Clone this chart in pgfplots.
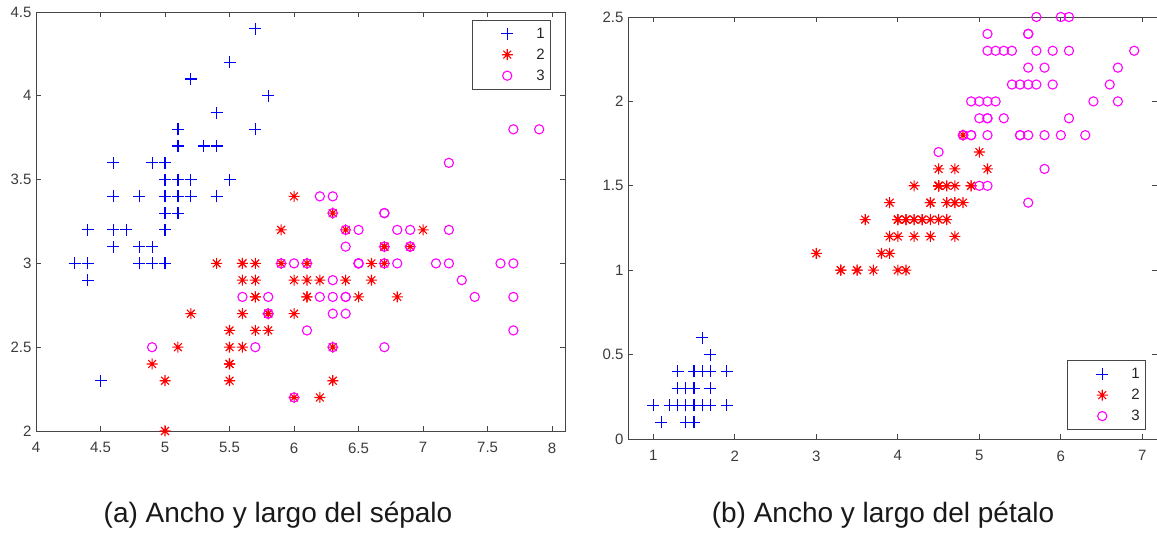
\documentclass[border=0pt]{standalone}
\usepackage{fontspec}
\setmainfont{Liberation Sans}
\usepackage{pgfplots}
\usepackage{pgfplotstable}
\pgfplotsset{compat=1.18}

\definecolor{mblue}{rgb}{0,0,1}
\definecolor{mred}{rgb}{1,0,0}
\definecolor{mmag}{rgb}{1,0,1}
\definecolor{axgray}{RGB}{70,70,70}
\definecolor{labgray}{RGB}{60,60,60}

% plain plus sign
\pgfdeclareplotmark{mplus}{%
  \pgfpathmoveto{\pgfqpoint{-\pgfplotmarksize}{0pt}}%
  \pgfpathlineto{\pgfqpoint{\pgfplotmarksize}{0pt}}%
  \pgfpathmoveto{\pgfqpoint{0pt}{-\pgfplotmarksize}}%
  \pgfpathlineto{\pgfqpoint{0pt}{\pgfplotmarksize}}%
  \pgfusepathqstroke}

% MATLAB-style asterisk: a plus and a cross on top of each other
\pgfdeclareplotmark{mstar}{%
  \pgfpathmoveto{\pgfqpoint{-\pgfplotmarksize}{0pt}}%
  \pgfpathlineto{\pgfqpoint{\pgfplotmarksize}{0pt}}%
  \pgfpathmoveto{\pgfqpoint{0pt}{-\pgfplotmarksize}}%
  \pgfpathlineto{\pgfqpoint{0pt}{\pgfplotmarksize}}%
  \pgfpathmoveto{\pgfqpoint{-0.7071\pgfplotmarksize}{-0.7071\pgfplotmarksize}}%
  \pgfpathlineto{\pgfqpoint{0.7071\pgfplotmarksize}{0.7071\pgfplotmarksize}}%
  \pgfpathmoveto{\pgfqpoint{-0.7071\pgfplotmarksize}{0.7071\pgfplotmarksize}}%
  \pgfpathlineto{\pgfqpoint{0.7071\pgfplotmarksize}{-0.7071\pgfplotmarksize}}%
  \pgfusepathqstroke}

% Iris data: sepal length, sepal width, petal length, petal width
\pgfplotstableread{
sl sw pl pw
5.1 3.5 1.4 0.2
4.9 3.0 1.4 0.2
4.7 3.2 1.3 0.2
4.6 3.1 1.5 0.2
5.0 3.6 1.4 0.2
5.4 3.9 1.7 0.4
4.6 3.4 1.4 0.3
5.0 3.4 1.5 0.2
4.4 2.9 1.4 0.2
4.9 3.1 1.5 0.1
5.4 3.7 1.5 0.2
4.8 3.4 1.6 0.2
4.8 3.0 1.4 0.1
4.3 3.0 1.1 0.1
5.8 4.0 1.2 0.2
5.7 4.4 1.5 0.4
5.4 3.9 1.3 0.4
5.1 3.5 1.4 0.3
5.7 3.8 1.7 0.3
5.1 3.8 1.5 0.3
5.4 3.4 1.7 0.2
5.1 3.7 1.5 0.4
4.6 3.6 1.0 0.2
5.1 3.3 1.7 0.5
4.8 3.4 1.9 0.2
5.0 3.0 1.6 0.2
5.0 3.4 1.6 0.4
5.2 3.5 1.5 0.2
5.2 3.4 1.4 0.2
4.7 3.2 1.6 0.2
4.8 3.1 1.6 0.2
5.4 3.4 1.5 0.4
5.2 4.1 1.5 0.1
5.5 4.2 1.4 0.2
4.9 3.1 1.5 0.2
5.0 3.2 1.2 0.2
5.5 3.5 1.3 0.2
4.9 3.6 1.4 0.1
4.4 3.0 1.3 0.2
5.1 3.4 1.5 0.2
5.0 3.5 1.3 0.3
4.5 2.3 1.3 0.3
4.4 3.2 1.3 0.2
5.0 3.5 1.6 0.6
5.1 3.8 1.9 0.4
4.8 3.0 1.4 0.3
5.1 3.8 1.6 0.2
4.6 3.2 1.4 0.2
5.3 3.7 1.5 0.2
5.0 3.3 1.4 0.2
}\setosa

\pgfplotstableread{
sl sw pl pw
7.0 3.2 4.7 1.4
6.4 3.2 4.5 1.5
6.9 3.1 4.9 1.5
5.5 2.3 4.0 1.3
6.5 2.8 4.6 1.5
5.7 2.8 4.5 1.3
6.3 3.3 4.7 1.6
4.9 2.4 3.3 1.0
6.6 2.9 4.6 1.3
5.2 2.7 3.9 1.4
5.0 2.0 3.5 1.0
5.9 3.0 4.2 1.5
6.0 2.2 4.0 1.0
6.1 2.9 4.7 1.4
5.6 2.9 3.6 1.3
6.7 3.1 4.4 1.4
5.6 3.0 4.5 1.5
5.8 2.7 4.1 1.0
6.2 2.2 4.5 1.5
5.6 2.5 3.9 1.1
5.9 3.2 4.8 1.8
6.1 2.8 4.0 1.3
6.3 2.5 4.9 1.5
6.1 2.8 4.7 1.2
6.4 2.9 4.3 1.3
6.6 3.0 4.4 1.4
6.8 2.8 4.8 1.4
6.7 3.0 5.0 1.7
6.0 2.9 4.5 1.5
5.7 2.6 3.5 1.0
5.5 2.4 3.8 1.1
5.5 2.4 3.7 1.0
5.8 2.7 3.9 1.2
6.0 2.7 5.1 1.6
5.4 3.0 4.5 1.5
6.0 3.4 4.5 1.6
6.7 3.1 4.7 1.5
6.3 2.3 4.4 1.3
5.6 3.0 4.1 1.3
5.5 2.5 4.0 1.3
5.5 2.6 4.4 1.2
6.1 3.0 4.6 1.4
5.8 2.6 4.0 1.2
5.0 2.3 3.3 1.0
5.6 2.7 4.2 1.3
5.7 3.0 4.2 1.2
5.7 2.9 4.2 1.3
6.2 2.9 4.3 1.3
5.1 2.5 3.0 1.1
5.7 2.8 4.1 1.3
}\versicolor

\pgfplotstableread{
sl sw pl pw
6.3 3.3 6.0 2.5
5.8 2.7 5.1 1.9
7.1 3.0 5.9 2.1
6.3 2.9 5.6 1.8
6.5 3.0 5.8 2.2
7.6 3.0 6.6 2.1
4.9 2.5 4.5 1.7
7.3 2.9 6.3 1.8
6.7 2.5 5.8 1.8
7.2 3.6 6.1 2.5
6.5 3.2 5.1 2.0
6.4 2.7 5.3 1.9
6.8 3.0 5.5 2.1
5.7 2.5 5.0 2.0
5.8 2.8 5.1 2.4
6.4 3.2 5.3 2.3
6.5 3.0 5.5 1.8
7.7 3.8 6.7 2.2
7.7 2.6 6.9 2.3
6.0 2.2 5.0 1.5
6.9 3.2 5.7 2.3
5.6 2.8 4.9 2.0
7.7 2.8 6.7 2.0
6.3 2.7 4.9 1.8
6.7 3.3 5.7 2.1
7.2 3.2 6.0 1.8
6.2 2.8 4.8 1.8
6.1 3.0 4.9 1.8
6.4 2.8 5.6 2.1
7.2 3.0 5.8 1.6
7.4 2.8 6.1 1.9
7.9 3.8 6.4 2.0
6.4 2.8 5.6 2.2
6.3 2.8 5.1 1.5
6.1 2.6 5.6 1.4
7.7 3.0 6.1 2.3
6.3 3.4 5.6 2.4
6.4 3.1 5.5 1.8
6.0 3.0 4.8 1.8
6.9 3.1 5.4 2.1
6.7 3.1 5.6 2.4
6.9 3.1 5.1 2.3
5.8 2.7 5.1 1.9
6.8 3.2 5.9 2.3
6.7 3.3 5.7 2.5
6.7 3.0 5.2 2.3
6.3 2.5 5.0 1.9
6.5 3.0 5.2 2.0
6.2 3.4 5.4 2.3
5.9 3.0 5.1 1.8
}\virginica

\pgfplotsset{
  irisaxis/.style={
    scale only axis,
    axis line style={draw=axgray, line width=0.8pt},
    every tick/.style={draw=axgray, line width=0.8pt},
    tick align=inside,
    major tick length=5pt,
    ticklabel style={font=\fontsize{15}{15}\selectfont, text=labgray},
    xticklabel style={yshift=-8pt},
    yticklabel style={xshift=-1pt},
    /pgf/number format/assume math mode=true,
    legend style={draw=axgray, line width=0.8pt, fill=white,
      font=\fontsize{15}{15}\selectfont, text=black!85,
      inner xsep=0pt, inner ysep=3pt, row sep=0pt,
      nodes={inner xsep=6pt, inner ysep=4.5pt}},
    legend image code/.code={%
      \path[draw=none, fill=none] (0pt,-5pt) rectangle (58pt,5pt);
      \draw[##1] plot coordinates {(35pt,0pt)};},
  },
  g1/.style={only marks, mark=mplus, mark size=6pt, color=mblue,
    mark options={draw=mblue}, line width=1.2pt},
  g2/.style={only marks, mark=mstar, mark size=5.5pt, color=mred,
    mark options={draw=mred}, line width=1.1pt},
  g3/.style={only marks, mark=o, mark size=4.6pt, color=mmag,
    mark options={draw=mmag, fill=none}, line width=1.1pt},
}

\begin{document}
\begin{tikzpicture}
\useasboundingbox (0pt,0pt) rectangle (1157pt,533pt);

% (a) sepal length vs sepal width
\begin{axis}[irisaxis,
  at={(36pt,102pt)}, anchor=south west,
  width=529pt, height=419pt,
  xmin=4, xmax=8.1, ymin=2, ymax=4.5,
  xtick={4,4.5,...,8}, ytick={2,2.5,...,4.5},
  legend style={at={(rel axis cs:1,1)}, anchor=north east, xshift=-14pt, yshift=-8pt},
]
\addplot[g1] table[x=sl, y=sw] {\setosa};
\addplot[g2] table[x=sl, y=sw] {\versicolor};
\addplot[g3] table[x=sl, y=sw] {\virginica};
\legend{1,2,3}
\end{axis}

% (b) petal length vs petal width
\begin{axis}[irisaxis,
  at={(628pt,94pt)}, anchor=south west,
  width=529pt, height=422pt,
  xmin=0.69, xmax=7.18, ymin=0, ymax=2.5,
  xtick={1,...,7}, ytick={0,0.5,...,2.5},
  legend style={at={(rel axis cs:1,0)}, anchor=south east, xshift=-11pt, yshift=9pt},
]
\addplot[g1] table[x=pl, y=pw] {\setosa};
\addplot[g2] table[x=pl, y=pw] {\versicolor};
\addplot[g3] table[x=pl, y=pw] {\virginica};
\legend{1,2,3}
\end{axis}

\node[anchor=base, font=\fontsize{28}{28}\selectfont, text=black!90] at (278pt,11pt) {(a) Ancho y largo del sépalo};
\node[anchor=base, font=\fontsize{28}{28}\selectfont, text=black!90] at (883pt,11pt) {(b) Ancho y largo del pétalo};
\end{tikzpicture}
\end{document}
